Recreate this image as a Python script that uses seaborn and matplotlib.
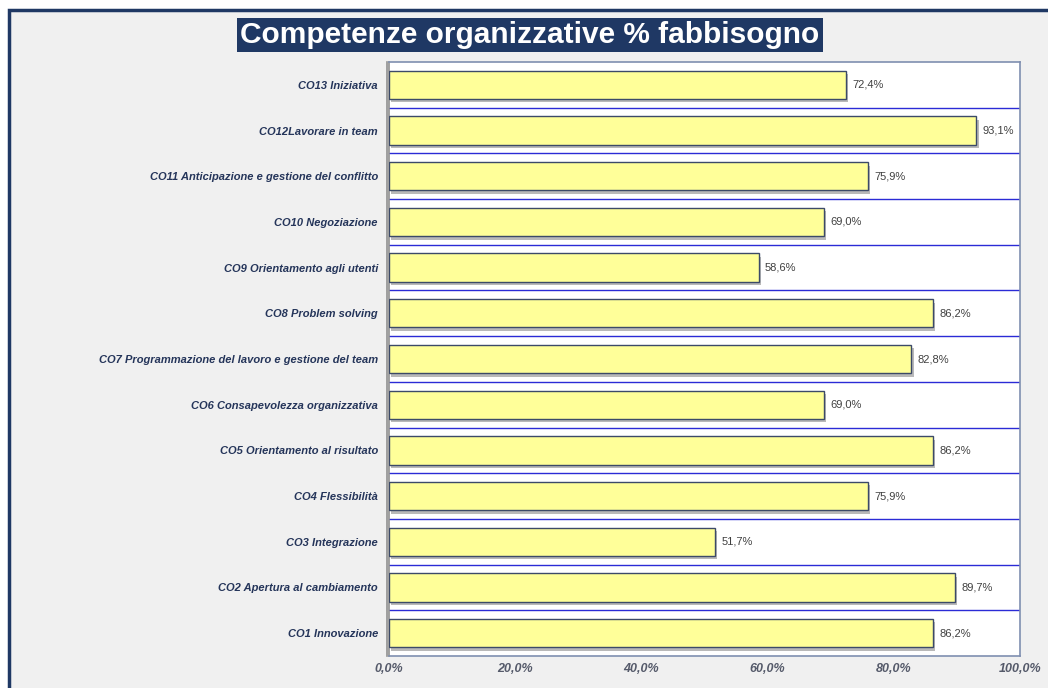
import numpy as np
import pandas as pd
import seaborn as sns
import matplotlib.pyplot as plt
from matplotlib.patches import Rectangle
from matplotlib import patheffects as pe

# data, top to bottom as in the chart
categories = [
    "CO13 Iniziativa",
    "CO12Lavorare in team",
    "CO11 Anticipazione e gestione del conflitto",
    "CO10 Negoziazione",
    "CO9 Orientamento agli utenti",
    "CO8 Problem solving",
    "CO7 Programmazione del lavoro e gestione del team",
    "CO6 Consapevolezza organizzativa",
    "CO5 Orientamento al risultato",
    "CO4 Flessibilità",
    "CO3 Integrazione",
    "CO2 Apertura al cambiamento",
    "CO1 Innovazione",
]
values = [72.4, 93.1, 75.9, 69.0, 58.6, 86.2, 82.8, 69.0, 86.2, 75.9, 51.7, 89.7, 86.2]
x_ticks = [0, 20, 40, 60, 80, 100]

title = "Competenze organizzative % fabbisogno"

sns.set_style("white")
plt.rcParams["font.family"] = ["Liberation Sans", "DejaVu Sans"]

df = pd.DataFrame({"cat": categories, "val": values})

fig = plt.figure(figsize=(10.48, 6.88), dpi=100)
fig.patch.set_facecolor("white")

# outer frame with light grey fill
fig.patches.append(Rectangle((9 / 1048, -0.05), 1.2, 1 - 10 / 688 + 0.05,
                             transform=fig.transFigure, facecolor="#f0f0f0",
                             edgecolor="#1f3864", linewidth=2.5, zorder=-10))

ax = fig.add_axes([389 / 1048, 1 - 656 / 688, (1020 - 389) / 1048, (656 - 62) / 688])
ax.set_facecolor("white")

sns.barplot(data=df, x="val", y="cat", order=categories, orient="h",
            color="#ffff99", edgecolor="#3c4a68", linewidth=1.0,
            width=0.62, saturation=1, ax=ax, zorder=3)

shadow = [pe.SimplePatchShadow(offset=(1.5, -2.5), shadow_rgbFace="#808080", alpha=0.55), pe.Normal()]
for p in ax.patches:
    p.set_path_effects(shadow)

for i, v in enumerate(values):
    ax.text(v + 1.0, i, f"{v:.1f}%".replace(".", ","), va="center", ha="left",
            fontsize=8, color="#404040", zorder=4)

ax.set_xlim(0, 100)
ax.set_xticks(x_ticks)
ax.set_xticklabels([f"{t:.1f}%".replace(".", ",") for t in x_ticks],
                   fontsize=9, fontweight="bold", fontstyle="italic", color="#555a6a")
ax.set_yticks(range(len(categories)))
ax.set_yticklabels(categories, fontsize=8, fontweight="bold", fontstyle="italic", color="#25355a")
ax.tick_params(axis="both", length=0)
ax.tick_params(axis="x", pad=5)
ax.tick_params(axis="y", pad=8)

# blue separators between categories
ax.set_yticks(np.arange(0.5, len(categories) - 1, 1), minor=True)
ax.tick_params(axis="y", which="minor", length=0)
ax.grid(axis="y", which="minor", color="#2b2bd6", linewidth=1.0, zorder=1)
ax.set_axisbelow(True)
ax.set_xlabel("")
ax.set_ylabel("")

for s in ax.spines.values():
    s.set_visible(True)
    s.set_color("#7f8fb0")
    s.set_linewidth(1.2)
ax.spines["left"].set_color("#909090")
ax.spines["left"].set_path_effects([pe.SimpleLineShadow(offset=(-1.5, 0), alpha=0.4), pe.Normal()])

fig.text(530 / 1048, 1 - 35 / 688, title, ha="center", va="center",
         fontsize=21.5, fontweight="bold", color="white",
         bbox=dict(boxstyle="square,pad=0.1", facecolor="#1f3864", edgecolor="none"))

fig.savefig("out.png", dpi=100)
